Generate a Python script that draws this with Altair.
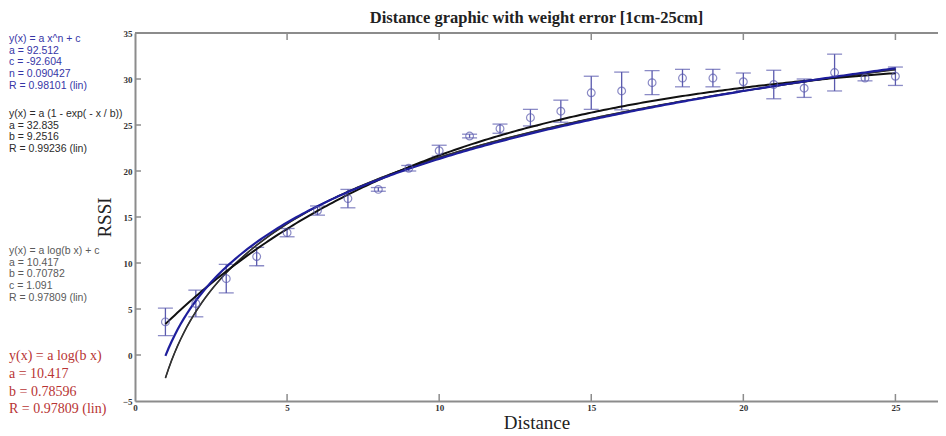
import altair as alt
import pandas as pd

# ---- data ----
distance = list(range(1, 26))
rssi = [3.6, 5.6, 8.3, 10.7, 13.3, 15.7, 17.0, 18.0, 20.3, 22.2, 23.8, 24.6, 25.8,
        26.5, 28.5, 28.7, 29.6, 30.1, 30.1, 29.7, 29.4, 29.0, 30.7, 30.1, 30.3]
err = [1.5, 1.45, 1.55, 1.0, 0.45, 0.5, 1.0, 0.2, 0.3, 0.6, 0.2, 0.5, 0.9,
       1.2, 1.8, 2.05, 1.3, 0.95, 0.95, 0.95, 1.55, 1.0, 2.0, 0.3, 1.0]

# fit parameters printed on the chart
power_fit = {"a": 92.512, "c": -92.604, "n": 0.090427}
exp_fit = {"a": 32.835, "b": 9.2516}
logc_fit = {"a": 10.417, "b": 0.70782, "c": 1.091}
log_fit = {"a": 10.417, "b": 0.78596}

x_ticks = [0, 5, 10, 15, 20, 25]
y_ticks = [-5, 0, 5, 10, 15, 20, 25, 30, 35]

blue_text = ["y(x) = a x^n + c", "a = 92.512", "c = -92.604", "n = 0.090427", "R = 0.98101  (lin)"]
black_text = ["y(x) = a (1 - exp( - x / b))", "a = 32.835", "b = 9.2516", "R = 0.99236  (lin)"]
grey_text = ["y(x) = a log(b x) + c", "a = 10.417", "b = 0.70782", "c = 1.091", "R = 0.97809  (lin)"]
red_text = ["y(x) = a log(b x)", "a = 10.417", "b = 0.78596", "R = 0.97809  (lin)"]

W, H = 803, 368
PT_COLOR = "#5a5aae"
AXIS_COLOR = "#8c8c8c"

df = pd.DataFrame({"Distance": distance, "RSSI": rssi, "err": err})
df["lo"] = df["RSSI"] - df["err"]
df["hi"] = df["RSSI"] + df["err"]

xs = alt.Scale(domain=[0, 26.4], nice=False, zero=False)
ys = alt.Scale(domain=[-5, 35], nice=False, zero=False)

x_axis = alt.Axis(values=x_ticks, ticks=False, grid=False, domainColor=AXIS_COLOR, domainWidth=2,
                  labelFont="Liberation Serif", labelFontSize=9, labelFontWeight="bold",
                  labelColor="#333", labelPadding=2, labelFlush=False,
                  title="Distance", titleFont="Liberation Serif", titleFontSize=19,
                  titleFontWeight="normal", titleColor="#222", titlePadding=1)
y_axis = alt.Axis(values=y_ticks, ticks=False, grid=False, domainColor=AXIS_COLOR, domainWidth=2,
                  labelFont="Liberation Serif", labelFontSize=9, labelFontWeight="bold",
                  labelColor="#333", labelPadding=3, labelFlush=False,
                  title="RSSI", titleFont="Liberation Serif", titleFontSize=19,
                  titleFontWeight="normal", titleColor="#222", titlePadding=8)

base = alt.Chart(df)

points = base.mark_point(shape="circle", filled=False, size=60, color=PT_COLOR, strokeWidth=1.2).encode(
    x=alt.X("Distance:Q", scale=xs, axis=x_axis),
    y=alt.Y("RSSI:Q", scale=ys, axis=y_axis),
)
bars = base.mark_rule(color=PT_COLOR, strokeWidth=1.3).encode(
    x="Distance:Q", y="lo:Q", y2="hi:Q")
cap_hi = base.mark_tick(orient="horizontal", size=15, thickness=1.3, color=PT_COLOR).encode(
    x="Distance:Q", y="hi:Q")
cap_lo = base.mark_tick(orient="horizontal", size=15, thickness=1.3, color=PT_COLOR).encode(
    x="Distance:Q", y="lo:Q")

curve_base = alt.Chart(alt.sequence(1, 25.05, 0.1, as_="x"))
p, e, lc, lg = power_fit, exp_fit, logc_fit, log_fit
power_line = curve_base.transform_calculate(
    y=f"{p['a']} * pow(datum.x, {p['n']}) + {p['c']}"
).mark_line(color="#1e1e9c", strokeWidth=2.2).encode(x="x:Q", y="y:Q")
exp_line = curve_base.transform_calculate(
    y=f"{e['a']} * (1 - exp(-datum.x / {e['b']}))"
).mark_line(color="#111111", strokeWidth=2).encode(x="x:Q", y="y:Q")
logc_line = curve_base.transform_calculate(
    y=f"{lc['a']} * log({lc['b']} * datum.x) + {lc['c']}"
).mark_line(color="#2a2a2a", strokeWidth=1.6).encode(x="x:Q", y="y:Q")
log_line = curve_base.transform_calculate(
    y=f"{lg['a']} * log({lg['b']} * datum.x)"
).mark_line(color="#333333", strokeWidth=1.2).encode(x="x:Q", y="y:Q")

# inward tick marks and top frame line
xt = pd.DataFrame({"t": x_ticks[1:]})
yt = pd.DataFrame({"t": y_ticks[1:-1]})
xtick_bot = alt.Chart(xt).mark_rule(color=AXIS_COLOR, strokeWidth=1.5).encode(
    x="t:Q", y=alt.value(H), y2=alt.value(H - 7))
xtick_top = alt.Chart(xt).mark_rule(color=AXIS_COLOR, strokeWidth=1.5).encode(
    x="t:Q", y=alt.value(0), y2=alt.value(7))
ytick = alt.Chart(yt).mark_rule(color=AXIS_COLOR, strokeWidth=1.5).encode(
    y="t:Q", x=alt.value(0), x2=alt.value(6))
top_frame = alt.Chart(pd.DataFrame({"a": [0]})).mark_rule(color=AXIS_COLOR, strokeWidth=2).encode(
    x=alt.value(0), x2=alt.value(W), y=alt.value(0))


def text_block(lines, y0, step, color, font, size):
    d = pd.DataFrame({"txt": lines, "i": list(range(len(lines)))})
    return alt.Chart(d).transform_calculate(
        py=f"{y0} + datum.i * {step}"
    ).mark_text(align="left", baseline="middle", font=font, fontSize=size, color=color).encode(
        x=alt.value(-126), y=alt.Y("py:Q", scale=None), text="txt:N")


ann = [
    text_block(blue_text, 6, 11.7, "#3636a6", "Liberation Sans", 10.5),
    text_block(black_text, 81, 11.7, "#2b2b2b", "Liberation Sans", 10.5),
    text_block(grey_text, 218, 11.7, "#5a5a5a", "Liberation Sans", 10.5),
    text_block(red_text, 323, 17.8, "#b83434", "Liberation Serif", 14),
]

chart = alt.layer(
    top_frame, xtick_bot, xtick_top, ytick,
    bars, cap_hi, cap_lo,
    logc_line, log_line, exp_line, power_line,
    points, *ann,
).properties(
    width=W, height=H,
    title=alt.Title("Distance graphic with weight error [1cm-25cm]", font="Liberation Serif",
                    fontSize=16.5, fontWeight="bold", color="#222", offset=3),
    padding={"left": 127, "top": 25, "right": 0, "bottom": 33},
    autosize=alt.AutoSizeParams(type="none"),
).configure_view(stroke=None).configure(background="white")

chart.save("out.html", embed_options={"renderer": "svg", "actions": False})
